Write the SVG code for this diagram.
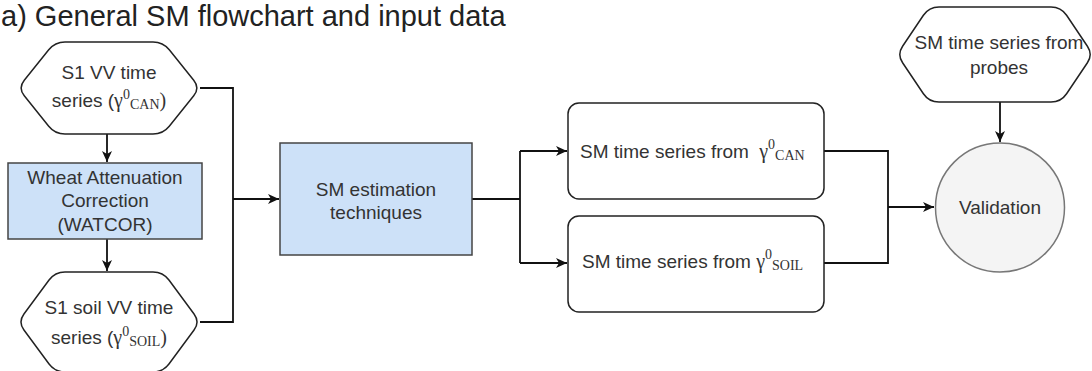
<svg xmlns="http://www.w3.org/2000/svg" width="1092" height="371" viewBox="0 0 1092 371">
<style>
.t{font-family:"Liberation Sans",Arial,sans-serif;font-size:19px;fill:#333;}
.g{font-family:"Liberation Serif","Times New Roman",serif;font-size:20px;}
.sm{font-size:14px;}
.node{stroke:#222;stroke-width:1.5;fill:#fff;}
.blue{fill:#cde1f8;stroke:#444;stroke-width:1.5;}
.conn{fill:none;stroke:#111;stroke-width:1.8;}
</style>
<defs>
<marker id="arr" markerUnits="userSpaceOnUse" markerWidth="12" markerHeight="12" refX="11" refY="5" orient="auto">
<path d="M0,0 L11,5 L0,10 L3,5 Z" fill="#111"/>
</marker>
</defs>
<text x="1" y="26" style="font-family:'Liberation Sans',Arial,sans-serif;font-size:29px;fill:#222;">a) General SM flowchart and input data</text>

<g id="connectors">
<path class="conn" d="M107,134 V162" marker-end="url(#arr)"/>
<path class="conn" d="M107,239 V271" marker-end="url(#arr)"/>
<path class="conn" d="M200,88 H233 V322 H200"/>
<path class="conn" d="M233,199 H279" marker-end="url(#arr)"/>
<path class="conn" d="M472,199 H520"/>
<path class="conn" d="M520,151 V263"/>
<path class="conn" d="M520,151 H567" marker-end="url(#arr)"/>
<path class="conn" d="M520,263 H567" marker-end="url(#arr)"/>
<path class="conn" d="M824,151 H888 V263 H824"/>
<path class="conn" d="M888,207 H934" marker-end="url(#arr)"/>
<path class="conn" d="M1000,102 V142" marker-end="url(#arr)"/>
</g>

<g id="s1vv">
<path class="node" d="M65,42 L153,42 Q163,42 169.27,49.79 L193.73,80.21 Q200,88 193.73,95.79 L169.27,126.21 Q163,134 153,134 L65,134 Q55,134 48.73,126.21 L24.27,95.79 Q18,88 24.27,80.21 L48.73,49.79 Q55,42 65,42 Z"/>
<text class="t" x="109" y="79" text-anchor="middle">S1 VV time</text>
<text class="t" x="109" y="107" text-anchor="middle">series (<tspan class="g">γ</tspan><tspan class="g sm" dy="-8">0</tspan><tspan class="g sm" dy="10">CAN</tspan><tspan class="g" dy="-2">)</tspan></text>
</g>

<g id="watcor">
<rect class="blue" x="8" y="163" width="194" height="76"/>
<text class="t" x="105" y="184" text-anchor="middle">Wheat Attenuation</text>
<text class="t" x="105" y="207" text-anchor="middle">Correction</text>
<text class="t" x="105" y="231" text-anchor="middle">(WATCOR)</text>
</g>

<g id="s1soil">
<path class="node" d="M65,272 L153,272 Q163,272 168.95,280.04 L194.05,313.96 Q200,322 194.05,330.04 L168.95,363.96 Q163,372 153,372 L65,372 Q55,372 49.05,363.96 L23.95,330.04 Q18,322 23.95,313.96 L49.05,280.04 Q55,272 65,272 Z"/>
<text class="t" x="109" y="314" text-anchor="middle">S1 soil VV time</text>
<text class="t" x="109" y="344" text-anchor="middle">series (<tspan class="g">γ</tspan><tspan class="g sm" dy="-8">0</tspan><tspan class="g sm" dy="10">SOIL</tspan><tspan class="g" dy="-2">)</tspan></text>
</g>

<g id="smest">
<rect class="blue" x="280" y="143" width="192" height="112"/>
<text class="t" x="376" y="196" text-anchor="middle">SM estimation</text>
<text class="t" x="376" y="219" text-anchor="middle">techniques</text>
</g>

<g id="smcan">
<rect class="node" x="568" y="103" width="256" height="96" rx="11"/>
<text class="t" x="580" y="158">SM time series from <tspan class="g" dx="5">γ</tspan><tspan class="g sm" dy="-9">0</tspan><tspan class="g sm" dy="11">CAN</tspan></text>
</g>

<g id="smsoil">
<rect class="node" x="568" y="216" width="256" height="96" rx="11"/>
<text class="t" x="582" y="268">SM time series from <tspan class="g">γ</tspan><tspan class="g sm" dy="-9">0</tspan><tspan class="g sm" dy="11">SOIL</tspan></text>
</g>

<g id="probes">
<path class="node" d="M939,7 L1051,7 Q1061,7 1066.59,15.29 L1087.41,46.21 Q1093,54.5 1087.41,62.79 L1066.59,93.71 Q1061,102 1051,102 L939,102 Q929,102 923.41,93.71 L902.59,62.79 Q897,54.5 902.59,46.21 L923.41,15.29 Q929,7 939,7 Z"/>
<text class="t" x="999" y="49" text-anchor="middle">SM time series from</text>
<text class="t" x="999" y="74" text-anchor="middle">probes</text>
</g>

<g id="validation">
<circle cx="1000" cy="207.5" r="64.5" fill="#f4f4f4" stroke="#777" stroke-width="1.5"/>
<text class="t" x="1000" y="214" text-anchor="middle">Validation</text>
</g>
</svg>
